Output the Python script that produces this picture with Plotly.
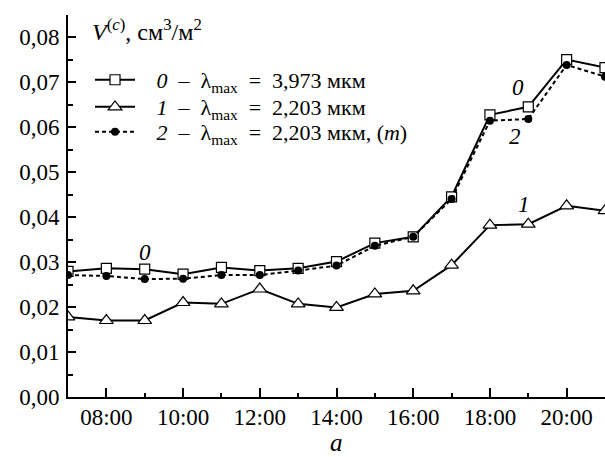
import plotly.graph_objects as go

hours = [7, 8, 9, 10, 11, 12, 13, 14, 15, 16, 17, 18, 19, 20, 21]
tick_hours = [8, 10, 12, 14, 16, 18, 20]
tick_labels = ["08:00", "10:00", "12:00", "14:00", "16:00", "18:00", "20:00"]

s0 = [0.0279, 0.0286, 0.0284, 0.0273, 0.0288, 0.0281, 0.0286, 0.0301, 0.0342,
      0.0356, 0.0445, 0.0627, 0.0645, 0.0750, 0.0732]
s1 = [0.0178, 0.0170, 0.0170, 0.0210, 0.0207, 0.0240, 0.0207, 0.0199, 0.0229,
      0.0236, 0.0293, 0.0382, 0.0384, 0.0425, 0.0414]
s2 = [0.0271, 0.0269, 0.0262, 0.0263, 0.0271, 0.0271, 0.0281, 0.0292, 0.0336,
      0.0356, 0.0440, 0.0614, 0.0618, 0.0738, 0.0712]

NB = "\u00a0" * 3
names = [
    NB + "<i>0</i>  –  λ<sub>max</sub>  =  3,973 мкм",
    NB + "<i>1</i>  –  λ<sub>max</sub>  =  2,203 мкм",
    NB + "<i>2</i>  –  λ<sub>max</sub>  =  2,203 мкм, (<i>m</i>)",
]

FONT = "Liberation Serif"

fig = go.Figure()
fig.add_trace(go.Scatter(
    x=hours, y=s0, name=names[0], mode="lines+markers", legend="legend",
    line=dict(color="black", width=2),
    marker=dict(symbol="square", size=10, color="white",
                line=dict(color="black", width=1.2)),
))
fig.add_trace(go.Scatter(
    x=hours, y=s1, name=names[1], mode="lines+markers", legend="legend2",
    line=dict(color="black", width=2),
    marker=dict(symbol="triangle-up", size=12, color="white",
                line=dict(color="black", width=1.2)),
))
fig.add_trace(go.Scatter(
    x=hours, y=s2, name=names[2], mode="lines+markers", legend="legend3",
    line=dict(color="black", width=2, dash="4px,3px"),
    marker=dict(symbol="circle", size=8, color="black"),
))

axis_common = dict(
    showgrid=False, zeroline=False, showline=True, linecolor="black",
    linewidth=2, ticks="inside", tickcolor="black", tickwidth=2,
    tickfont=dict(family=FONT, size=23, color="black"),
)

fig.update_xaxes(
    range=[7, 21], tickvals=tick_hours, ticktext=tick_labels,
    ticklen=9, ticklabelstandoff=-2,
    minor=dict(tickvals=[9, 11, 13, 15, 17, 19], ticklen=4,
               tickwidth=2, tickcolor="black", ticks="inside"),
    **axis_common,
)
fig.update_yaxes(
    range=[0, 0.0849], dtick=0.01, tick0=0, tickformat=".2f",
    ticklen=8, ticklabelstandoff=2,
    minor=dict(dtick=0.005, ticklen=5, tickwidth=2,
               tickcolor="black", ticks="inside"),
    **axis_common,
)

leg_common = dict(xanchor="left", yanchor="middle", bgcolor="rgba(0,0,0,0)",
                  itemwidth=40,
                  font=dict(family=FONT, size=22, color="black"))

fig.update_layout(
    width=605, height=457,
    margin=dict(l=68, r=0, t=15, b=60),
    paper_bgcolor="white", plot_bgcolor="white",
    separators=",.",
    font=dict(family=FONT, size=20, color="black"),
    showlegend=True,
    legend=dict(x=0.041, y=0.830, **leg_common),
    legend2=dict(x=0.041, y=0.759, **leg_common),
    legend3=dict(x=0.041, y=0.694, **leg_common),
    annotations=[
        dict(x=0.041, y=(397 - 30) / 382, xref="paper", yref="paper",
             xanchor="left", yanchor="middle", showarrow=False,
             text="<i>V</i><sup>(<i>c</i>)</sup>, см<sup>3</sup>/м<sup>2</sup>",
             font=dict(family=FONT, size=24)),
        dict(x=9.0, y=0.0322, text="<i>0</i>", showarrow=False,
             font=dict(family=FONT, size=23)),
        dict(x=18.73, y=0.0687, text="<i>0</i>", showarrow=False,
             font=dict(family=FONT, size=23)),
        dict(x=18.65, y=0.0578, text="<i>2</i>", showarrow=False,
             font=dict(family=FONT, size=23)),
        dict(x=18.9, y=0.0427, text="<i>1</i>", showarrow=False,
             font=dict(family=FONT, size=23)),
        dict(x=0.5, y=-0.119, xref="paper", yref="paper", yanchor="middle",
             text="<i>a</i>", showarrow=False,
             font=dict(family=FONT, size=25)),
    ],
)

fig.write_html("out.html", config={"displayModeBar": False},
               post_script="document.body.style.margin='0';")
